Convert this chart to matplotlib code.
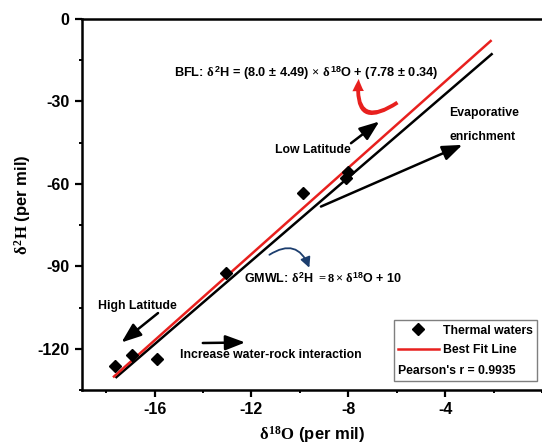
import matplotlib
matplotlib.use("Agg")
import matplotlib.pyplot as plt
from matplotlib.lines import Line2D
from matplotlib.patches import FancyArrowPatch
from matplotlib.ticker import MultipleLocator

# ---------------- data ----------------
thermal_d18O = [-17.65, -16.94, -15.89, -13.04, -9.86, -8.03, -8.09]
thermal_d2H = [-126.2, -122.2, -123.7, -92.5, -63.4, -55.5, -57.9]

bfl_x = [-17.68, -2.12]
bfl_y = [-130.1, -8.0]
gmwl_x = [-17.58, -2.08]
gmwl_y = [-130.3, -12.8]

x_ticks = [-16, -12, -8, -4]
y_ticks = [0, -30, -60, -90, -120]

# ---------------- style ----------------
plt.rcParams['font.family'] = ['Liberation Sans', 'DejaVu Sans']
plt.rcParams['font.weight'] = 'bold'
plt.rcParams['axes.unicode_minus'] = False
plt.rcParams['mathtext.fontset'] = 'custom'
plt.rcParams['mathtext.rm'] = 'Liberation Serif'
plt.rcParams['mathtext.it'] = 'Liberation Serif'
plt.rcParams['mathtext.bf'] = 'Liberation Sans:bold'
plt.rcParams['mathtext.sf'] = 'Liberation Sans'

fig = plt.figure(figsize=(5.42, 4.47), dpi=100)
ax = fig.add_axes([82 / 542, (447 - 390) / 447, 460 / 542, 371 / 447])

ax.plot(gmwl_x, gmwl_y, color='black', lw=1.8, zorder=3)
ax.plot(bfl_x, bfl_y, color='#e8201e', lw=1.8, zorder=4)
ax.plot(thermal_d18O, thermal_d2H, linestyle='none', marker='D', ms=6,
        color='black', zorder=5)

ax.set_xlim(-19.0, 0.0)
ax.set_ylim(-135, 0)
ax.set_xticks(x_ticks)
ax.set_yticks(y_ticks)
ax.xaxis.set_minor_locator(MultipleLocator(2))
ax.yaxis.set_minor_locator(MultipleLocator(15))
ax.tick_params(which='major', direction='out', length=5, width=1.6,
               labelsize=11.5, pad=4)
ax.tick_params(which='minor', direction='out', length=2.5, width=1.4)
for lab in ax.get_xticklabels() + ax.get_yticklabels():
    lab.set_fontweight('bold')

for side in ['left', 'bottom', 'top']:
    ax.spines[side].set_linewidth(1.8)
ax.spines['right'].set_visible(False)

ax.set_xlabel(r"$\delta^{18}\mathrm{O}$ (per mil)", fontsize=12,
              fontweight='bold', labelpad=5)
ax.set_ylabel(r"$\delta^{2}\mathrm{H}$ (per mil)", fontsize=12,
              fontweight='bold', labelpad=3)

fs = 8.8
# ---------------- annotations ----------------
ax.text(-15.18, -19.7,
        r"BFL: $\delta^{\mathbf{2}}$H = (8.0 ± 4.49) $\times$ $\delta^{\mathbf{18}}$O + (7.78 ± 0.34)",
        fontsize=9.2, fontweight='bold', ha='left', va='center')
ax.text(-7.89, -47.6, "Low Latitude", fontsize=fs, fontweight='bold',
        ha='right', va='center')
ax.text(-3.84, -34.3, "Evaporative", fontsize=fs, fontweight='bold',
        ha='left', va='center')
ax.text(-3.84, -42.8, "enrichment", fontsize=fs, fontweight='bold',
        ha='left', va='center')
ax.text(-12.29, -94.5,
        r"GMWL: $\delta^{\mathbf{2}}$H $= 8 \times \delta^{\mathbf{18}}$O + 10",
        fontsize=9.0, fontweight='bold', ha='left', va='center')
ax.text(-18.34, -104.4, "High Latitude", fontsize=fs, fontweight='bold',
        ha='left', va='center')
ax.text(-14.97, -122.2, "Increase water-rock interaction", fontsize=fs,
        fontweight='bold', ha='left', va='center')

def straight_arrow(x0, y0, x1, y1):
    ax.add_patch(FancyArrowPatch((x0, y0), (x1, y1),
                                 arrowstyle='-|>,head_length=1.0,head_width=0.38',
                                 mutation_scale=12, lw=1.8, color='black',
                                 shrinkA=0, shrinkB=0, zorder=6))

straight_arrow(-7.89, -45.2, -6.72, -37.3)
straight_arrow(-9.13, -68.25, -3.29, -45.8)
straight_arrow(-15.86, -107.0, -17.37, -117.7)
straight_arrow(-14.01, -117.9, -12.26, -117.7)

# curved arrows
ax.add_patch(FancyArrowPatch((-5.97, -30.4), (-7.57, -21.8),
                             connectionstyle='arc3,rad=-1.05',
                             arrowstyle='simple,head_length=0.8,head_width=0.75,tail_width=0.25',
                             mutation_scale=11, color='#e8201e', lw=0,
                             shrinkA=0, shrinkB=0, zorder=6))
ax.add_patch(FancyArrowPatch((-11.26, -85.8), (-9.61, -90.5),
                             connectionstyle='arc3,rad=-0.6',
                             arrowstyle='-|>,head_length=0.6,head_width=0.3',
                             mutation_scale=10, color='#1c3e6e', lw=1.3,
                             shrinkA=0, shrinkB=0, zorder=6))

# ---------------- legend ----------------
handles = [
    Line2D([], [], linestyle='none', marker='D', ms=6, color='black'),
    Line2D([], [], color='#e8201e', lw=1.8),
]
leg = ax.legend(handles, ["Thermal waters", "Best Fit Line"],
                title="Pearson's r = 0.9935",
                title_fontproperties={'size': fs, 'weight': 'bold'},
                prop={'size': fs, 'weight': 'bold'},
                loc='lower right', bbox_to_anchor=(0.989, 0.024),
                frameon=True, fancybox=False, edgecolor='#7f7f7f',
                framealpha=1, borderpad=0.35, borderaxespad=0,
                handlelength=3.3, handletextpad=0.35, labelspacing=0.65,
                alignment='left')
leg.get_frame().set_linewidth(1.0)
try:
    box = leg._legend_box
    box._children = [leg._legend_handle_box, leg._legend_title_box]
    box.sep = 6
except Exception:
    pass

fig.savefig("out.png", dpi=100)
